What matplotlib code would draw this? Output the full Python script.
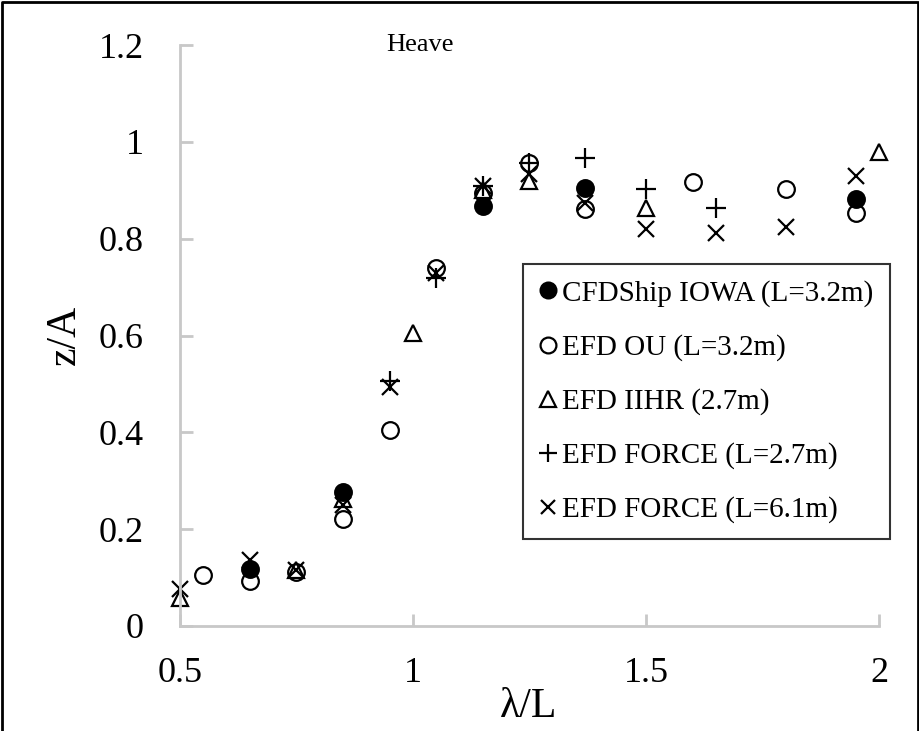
import matplotlib.pyplot as plt
from matplotlib.lines import Line2D

plt.rcParams['font.family'] = ['Liberation Serif', 'DejaVu Serif']

# CFDShip IOWA (L=3.2m)
cfd_x = [0.65, 0.85, 1.15, 1.37, 1.95]
cfd_y = [0.117, 0.276, 0.868, 0.905, 0.882]

# EFD OU (L=3.2m)
ou_x = [0.55, 0.65, 0.75, 0.85, 0.95, 1.05, 1.15, 1.25, 1.37, 1.60, 1.80, 1.95]
ou_y = [0.105, 0.093, 0.111, 0.220, 0.404, 0.740, 0.895, 0.957, 0.862, 0.917, 0.903, 0.852]

# EFD IIHR (2.7m)
iihr_x = [0.50, 0.75, 0.85, 1.00, 1.15, 1.25, 1.50, 2.00]
iihr_y = [0.058, 0.115, 0.262, 0.606, 0.900, 0.920, 0.864, 0.980]

# EFD FORCE (L=2.7m)
f27_x = [0.95, 1.05, 1.15, 1.25, 1.37, 1.50, 1.65]
f27_y = [0.507, 0.718, 0.909, 0.957, 0.967, 0.903, 0.864]

# EFD FORCE (L=6.1m)
f61_x = [0.50, 0.65, 0.75, 0.85, 0.95, 1.05, 1.15, 1.25, 1.37, 1.50, 1.65, 1.80, 1.95]
f61_y = [0.076, 0.136, 0.115, 0.250, 0.493, 0.730, 0.909, 0.934, 0.874, 0.820, 0.812, 0.825, 0.930]

W, H = 920, 731
fig = plt.figure(figsize=(W / 100, H / 100), dpi=100)
ax = fig.add_axes([180 / W, 1 - 626 / H, 699 / W, 581 / H])

ms = 12
mew = 1.6
ax.plot(cfd_x, cfd_y, 'o', color='black', ms=ms, mew=mew, clip_on=False,
        label='CFDShip IOWA (L=3.2m)')
ax.plot(ou_x, ou_y, 'o', mfc='none', mec='black', ms=ms, mew=mew, clip_on=False,
        label='EFD OU (L=3.2m)')
ax.plot(iihr_x, iihr_y, '^', mfc='none', mec='black', ms=ms, mew=mew, clip_on=False,
        label='EFD IIHR (2.7m)')
ax.plot(f27_x, f27_y, '+', color='black', ms=ms + 2, mew=mew, clip_on=False,
        label='EFD FORCE (L=2.7m)')
ax.plot(f61_x, f61_y, 'x', color='black', ms=ms - 1, mew=mew, clip_on=False,
        label='EFD FORCE (L=6.1m)')

ax.set_xlim(0.5, 2)
ax.set_ylim(0, 1.2)
ax.set_xticks([0.5, 1, 1.5, 2])
ax.set_xticklabels(['0.5', '1', '1.5', '2'])
ax.set_yticks([0, 0.2, 0.4, 0.6, 0.8, 1, 1.2])
ax.set_yticklabels(['0', '0.2', '0.4', '0.6', '0.8', '1', '1.2'])

for side in ['top', 'right']:
    ax.spines[side].set_visible(False)
for side in ['left', 'bottom']:
    ax.spines[side].set_color('#c8c8c8')
    ax.spines[side].set_linewidth(2)
ax.tick_params(direction='in', length=9, width=2, color='#c8c8c8', labelsize=26)
ax.tick_params(axis='y', pad=26)
ax.tick_params(axis='x', pad=22)

fig.text(65 / W, 1 - 335 / H, 'z/A', fontsize=30, rotation=90, ha='center', va='center')
fig.text(529 / W, 1 - 707 / H, 'λ/L', fontsize=30, ha='center', va='center')
fig.text(420 / W, 1 - 45 / H, 'Heave', fontsize=19, ha='center', va='center')

leg = ax.legend(loc='upper left', bbox_to_anchor=(523 / W, 1 - 264 / H),
                bbox_transform=fig.transFigure, fontsize=21, frameon=True,
                fancybox=False, edgecolor='black', borderpad=0.55,
                handlelength=0.6, handletextpad=0.2, labelspacing=0.93,
                markerscale=0.95, borderaxespad=0)
leg.get_frame().set_linewidth(1.5)

# figure frame: left, top and right edges only
frame_x = [2 / W, 2 / W, 1 - 2 / W, 1 - 2 / W]
frame_y = [0, 1 - 2 / H, 1 - 2 / H, 0]
fig.add_artist(Line2D(frame_x, frame_y, transform=fig.transFigure, color='black', lw=2))

fig.savefig('out.png', dpi=100)
